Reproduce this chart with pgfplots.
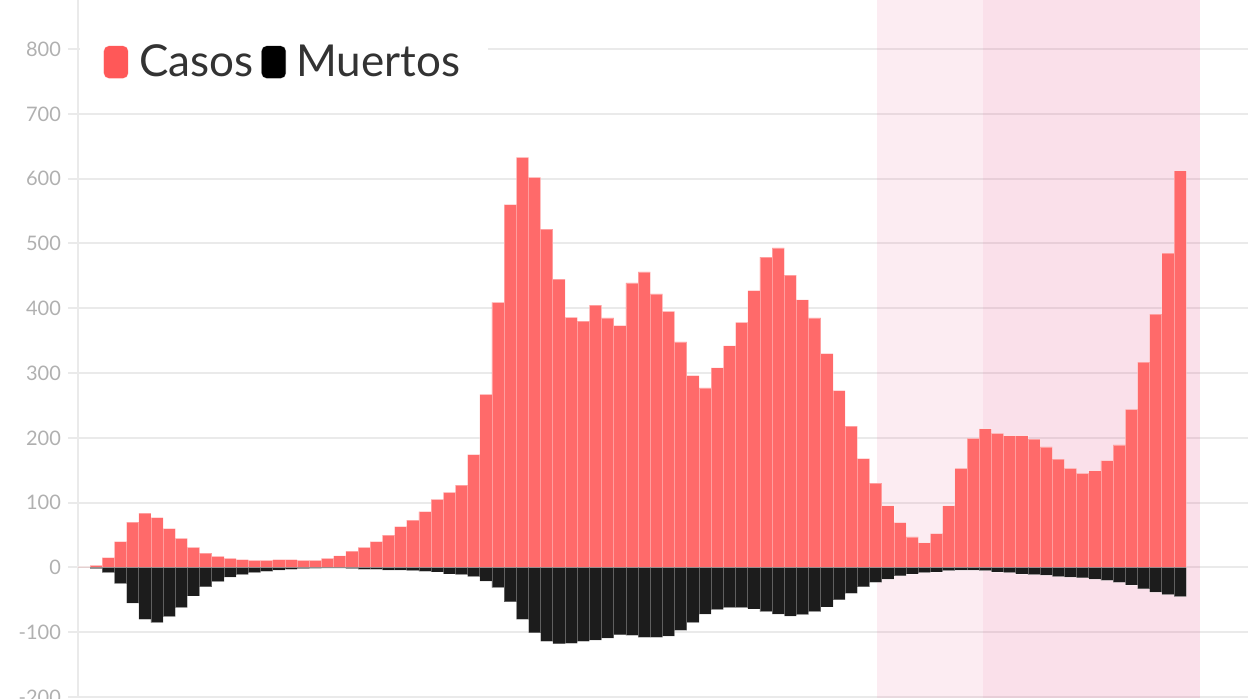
\documentclass[border=0pt]{standalone}
\usepackage{fontspec}
\setmainfont{Lato}
\usepackage{pgfplots}
\pgfplotsset{compat=1.18}
\usepackage{pgfplotstable}
\definecolor{casos}{RGB}{255,106,106}
\definecolor{casosleg}{RGB}{255,88,88}
\definecolor{muertos}{RGB}{28,28,28}
\definecolor{shadebase}{RGB}{231,105,150}
\definecolor{gridc}{RGB}{234,234,234}
\definecolor{tickc}{RGB}{176,176,176}

\pgfplotstableread{
i casos muertos
0 1 0
1 3 -2
2 15 -8
3 40 -25
4 70 -55
5 84 -80
6 77 -85
7 60 -76
8 45 -62
9 31 -44
10 22 -30
11 17 -22
12 14 -15
13 12 -11
14 11 -8
15 11 -6
16 12 -4
17 12 -3
18 11 -2
19 11 -1.5
20 14 -1
21 18 -1
22 25 -2
23 31 -3
24 40 -3
25 50 -4
26 63 -4
27 73 -5
28 86 -6
29 105 -7
30 116 -10
31 127 -11
32 174 -14
33 267 -21
34 409 -31
35 560 -53
36 633 -80
37 602 -101
38 522 -114
39 445 -118
40 386 -117
41 380 -114
42 405 -112
43 385 -109
44 373 -104
45 439 -105
46 456 -108
47 422 -108
48 395 -106
49 348 -97
50 296 -85
51 277 -72
52 308 -65
53 342 -62
54 378 -62
55 427 -64
56 479 -68
57 493 -72
58 451 -75
59 413 -73
60 385 -68
61 330 -61
62 273 -50
63 218 -40
64 168 -30
65 130 -23
66 95 -18
67 69 -13
68 47 -10
69 38 -8
70 52 -7
71 95 -5
72 153 -4
73 199 -4
74 214 -5
75 207 -7
76 203 -8
77 203 -10
78 198 -11
79 186 -12
80 167 -14
81 153 -15
82 145 -16
83 149 -18
84 165 -20
85 189 -23
86 244 -27
87 317 -33
88 391 -38
89 485 -42
90 612 -45
}\datatable

\begin{document}
\begin{tikzpicture}
\useasboundingbox (0,0) rectangle (624pt,349pt);
\begin{axis}[
  at={(39pt,0pt)}, anchor=south west,
  scale only axis, width=585pt, height=349pt,
  xmin=-0.49, xmax=95.57, ymin=-201.5, ymax=875.7,
  axis x line=none, axis y line*=left,
  y axis line style={draw=gridc, line width=1pt, -},
  xtick=\empty,
  ytick={-200,-100,0,100,200,300,400,500,600,700,800},
  ymajorgrids, major grid style={draw=gridc, line width=1pt},
  tick align=outside, major tick length=5pt,
  ytick style={draw=gridc, line width=1pt},
  yticklabel style={font=\fontsize{10}{12}\selectfont, text=tickc},
  /pgf/number format/assume math mode=true,
  clip=false,
  legend columns=2,
  legend style={draw=none, fill=white, at={(rel axis cs:0,0.911)}, xshift=0.6pt, anchor=west,
    inner xsep=12pt, inner ysep=6pt,
    font=\fontsize{22}{27}\selectfont, text=black!80,
    nodes={inner sep=2pt},
    /tikz/column 1/.style={column sep=3.5pt},
    /tikz/column 2/.style={column sep=1.8pt},
    /tikz/column 3/.style={column sep=3pt}},
]
\fill[shadebase, fill opacity=0.127] (axis cs:65.11,-201.5) rectangle (axis cs:91.63,875.7);
\fill[shadebase, fill opacity=0.09] (axis cs:73.81,-201.5) rectangle (axis cs:91.63,875.7);
\addplot[ybar, bar width=1, bar shift=0pt, fill=casos, draw=white, draw opacity=0.35, line width=0.4pt,
  legend image code/.code={\fill[casosleg, rounded corners=2.5pt] (0pt,-8pt) rectangle (12pt,8pt);}]
  table[x=i, y=casos]{\datatable};
\addlegendentry{Casos}
\addplot[ybar, bar width=1, bar shift=0pt, fill=muertos, draw=white, draw opacity=0.3, line width=0.4pt,
  legend image code/.code={\fill[black, rounded corners=2.5pt] (0pt,-8pt) rectangle (12pt,8pt);}]
  table[x=i, y=muertos]{\datatable};
\addlegendentry{Muertos}
\end{axis}
\end{tikzpicture}
\end{document}
